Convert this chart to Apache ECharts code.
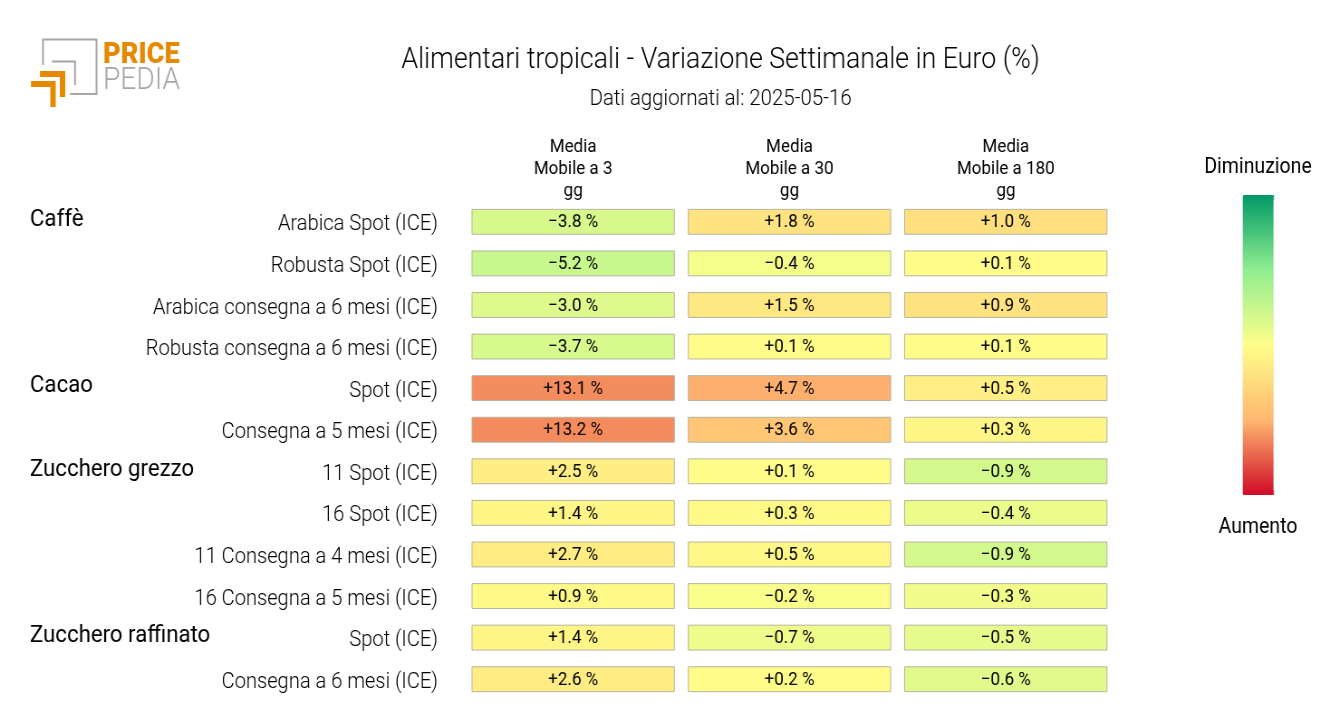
<!DOCTYPE html>
<html>
<head>
<meta charset="utf-8">
<style>
  html, body { margin: 0; padding: 0; background: #fff; overflow: hidden; }
  #wrap { width: 1320px; height: 720px; overflow: hidden; }
  /* the reference text is narrow, so the whole chart is drawn wider and squeezed back */
  #chart { width: 1457px; height: 720px; transform: scaleX(0.906); transform-origin: 0 0; }
</style>
<script src="https://cdn.jsdelivr.net/npm/echarts@6/dist/echarts.min.js"></script>
</head>
<body>
<div id="wrap"><div id="chart"></div></div>
<script>
var columns = ['Media\nMobile a 3\ngg', 'Media\nMobile a 30\ngg', 'Media\nMobile a 180\ngg'];
var rows = [
  'Arabica Spot (ICE)', 'Robusta Spot (ICE)', 'Arabica consegna a 6 mesi (ICE)', 'Robusta consegna a 6 mesi (ICE)',
  'Spot (ICE)', 'Consegna a 5 mesi (ICE)',
  '11 Spot (ICE)', '16 Spot (ICE)', '11 Consegna a 4 mesi (ICE)', '16 Consegna a 5 mesi (ICE)',
  'Spot (ICE)', 'Consegna a 6 mesi (ICE)'
];
var rowIds = rows.map(function (r, i) { return i + ':' + r; });
var groups = ['Caffè', 'Cacao', 'Zucchero grezzo', 'Zucchero raffinato'];
var groupRows = [0, 4, 6, 10];
var media3 = [-3.8, -5.2, -3.0, -3.7, 13.1, 13.2, 2.5, 1.4, 2.7, 0.9, 1.4, 2.6];
var media30 = [1.8, -0.4, 1.5, 0.1, 4.7, 3.6, 0.1, 0.3, 0.5, -0.2, -0.7, 0.2];
var media180 = [1.0, 0.1, 0.9, 0.1, 0.5, 0.3, -0.9, -0.4, -0.9, -0.3, -0.5, -0.6];
// every column has its own colour range
var columnRange = [21, 9, 4.5];
var scaleColors = ['#009966', '#90ee90', '#ffff8a', '#ffb870', '#cf0a28'];

var squeeze = 0.906;
var chartWidth = 1457;
function px(x) { return x / squeeze; }

var cells = [];
[media3, media30, media180].forEach(function (vals, c) {
  vals.forEach(function (v, r) { cells.push([c, rowIds[r], v, v / columnRange[c]]); });
});

function fmt(v) {
  return (v < 0 ? '\u2212' : '+') + Math.abs(v).toFixed(1) + ' %';
}

function line(points, color, width) {
  return {
    type: 'polyline',
    shape: { points: points.map(function (p) { return [px(p[0]), p[1]]; }) },
    style: { stroke: color, lineWidth: width, fill: null, lineJoin: 'miter' }
  };
}

var font = 'Roboto';
var logo = [
  line([[43, 65], [43, 39.5], [96.5, 39.5], [96.5, 94], [70, 94]], '#a6a6a6', 2),
  line([[52, 61.5], [75, 61.5], [75, 85]], '#a6a6a6', 2),
  line([[40, 74], [62.5, 74], [62.5, 97]], '#e58a00', 6),
  line([[31, 84], [53, 84], [53, 107]], '#e58a00', 6),
  { type: 'text', x: px(103), y: 40, style: { text: 'PRICE', fontFamily: font, fontWeight: 900, fontSize: 30, fill: '#e58a00' } },
  { type: 'text', x: px(103), y: 66, style: { text: 'PEDIA', fontFamily: font, fontWeight: 300, fontSize: 31, fill: '#a6a6a6' } }
];

// labels of the colour bar and the square corners that its clip rounds off
var barLegend = [
  { type: 'text', x: px(1258), y: 168, z: 5, style: { text: 'Diminuzione', align: 'center', verticalAlign: 'middle', fontFamily: font, fontSize: 21.5, fill: '#000' } },
  { type: 'text', x: px(1258), y: 528, z: 5, style: { text: 'Aumento', align: 'center', verticalAlign: 'middle', fontFamily: font, fontSize: 21.5, fill: '#000' } },
  { type: 'rect', z: 1, shape: { x: px(1243), y: 195, width: px(31), height: 5 }, style: { fill: scaleColors[0] } },
  { type: 'rect', z: 1, shape: { x: px(1243), y: 490, width: px(31), height: 5 }, style: { fill: scaleColors[4] } }
];

var chart = echarts.init(document.getElementById('chart'));
chart.setOption({
  animation: false,
  backgroundColor: '#fff',
  title: {
    text: 'Alimentari tropicali - Variazione Settimanale in Euro (%)',
    subtext: 'Dati aggiornati al: 2025-05-16',
    left: px(716), top: 41, textAlign: 'center',
    textStyle: { fontFamily: font, fontWeight: 300, fontSize: 29.5, color: '#000' },
    subtextStyle: { fontFamily: font, fontWeight: 300, fontSize: 22.5, color: '#000' },
    itemGap: 12
  },
  grid: { left: px(465), right: chartWidth - px(1114), top: 201, bottom: 20 },
  xAxis: {
    type: 'category', data: columns, position: 'top',
    axisLine: { show: false }, axisTick: { show: false },
    axisLabel: { interval: 0, fontFamily: font, fontSize: 18.8, lineHeight: 22, color: '#000', margin: -1 }
  },
  yAxis: {
    type: 'category', data: rowIds, inverse: true,
    axisLine: { show: false }, axisTick: { show: false },
    axisLabel: {
      interval: 0, margin: 30,
      formatter: function (id) { return '{r|' + id.split(':')[1] + '}'; },
      rich: { r: { fontFamily: font, fontWeight: 300, fontSize: 22.2, color: '#000', padding: [6, 0, 0, 0] } }
    }
  },
  visualMap: {
    type: 'continuous', min: -1, max: 1, calculable: false, seriesIndex: 0, dimension: 3,
    orient: 'vertical', left: px(1229), top: 180, itemWidth: px(31), itemHeight: 300,
    inverse: true, showLabel: false, text: null,
    inRange: { color: scaleColors }
  },
  series: [{
    type: 'custom',
    data: cells,
    encode: { x: 0, y: 1 },
    renderItem: function (params, api) {
      var p = api.coord([api.value(0), api.value(1)]);
      var s = api.size([1, 1]);
      var w = s[0] - px(14), h = s[1] - 16.7;
      return {
        type: 'rect',
        shape: { x: p[0] - w / 2, y: p[1] - h / 2, width: w, height: h },
        style: { fill: api.visual('color'), stroke: '#b5b5a0', lineWidth: 1 },
        textContent: {
          style: { text: fmt(api.value(2)), fill: '#000', fontFamily: font, fontSize: 18.8 }
        },
        textConfig: { position: 'inside', offset: [0, 1] }
      };
    }
  }],
  graphic: logo.concat(barLegend, groups.map(function (g, i) {
    return {
      type: 'text', x: px(30), y: 207 + groupRows[i] * 41.67,
      style: { text: g, fontFamily: font, fontSize: 24.5, fill: '#000' }
    };
  }))
});
</script>
</body>
</html>
